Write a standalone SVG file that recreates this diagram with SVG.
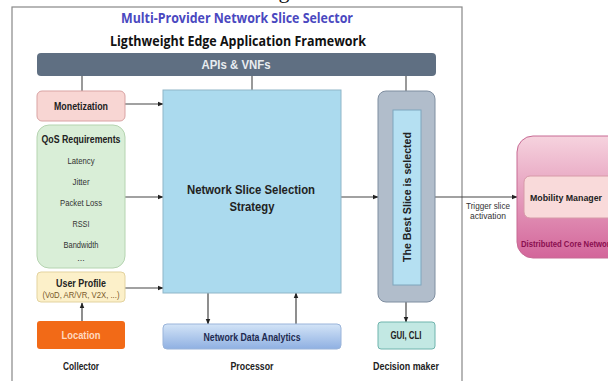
<svg xmlns="http://www.w3.org/2000/svg" width="608" height="381" viewBox="0 0 608 381">
<defs>
<style>
.t{font-family:"Liberation Sans",Arial,sans-serif;font-weight:bold;text-anchor:middle;fill:#222}
.n{font-family:"Liberation Sans",Arial,sans-serif;text-anchor:middle;fill:#333;font-size:9px}
.h{font-family:"Open Sans","Liberation Sans",sans-serif;font-weight:700;text-anchor:middle;font-size:13.5px}
.ln{stroke:#555;stroke-width:1.2;fill:none}
.ar{stroke:#444;stroke-width:1.2;fill:none;marker-end:url(#ah)}
</style>
<marker id="ah" viewBox="0 0 10 10" refX="9" refY="5" markerWidth="5" markerHeight="5" orient="auto">
<path d="M0,1 L10,5 L0,9 z" fill="#222"/>
</marker>
<linearGradient id="gNDA" x1="0" y1="0" x2="0" y2="1">
<stop offset="0" stop-color="#d3e4f7"/>
<stop offset="1" stop-color="#8fb0e2"/>
</linearGradient>
<linearGradient id="gDCN" x1="0" y1="0" x2="0" y2="1">
<stop offset="0" stop-color="#f6d3de"/>
<stop offset="1" stop-color="#d3659a"/>
</linearGradient>
</defs>
<rect width="608" height="381" fill="#fff"/>
<text x="284" y="-2" font-family="Liberation Serif,serif" font-size="22" fill="#111" text-anchor="middle">g</text>
<rect id="frame" x="12" y="7" width="450" height="390" fill="none" stroke="#888" stroke-width="1.2"/>
<text class="h" x="237" y="23" fill="#4a48c0" textLength="232" lengthAdjust="spacingAndGlyphs">Multi-Provider Network Slice Selector</text>
<text class="h" x="238" y="46" fill="#111" textLength="256" lengthAdjust="spacingAndGlyphs">Ligthweight Edge Application Framework</text>

<g id="apis">
<rect x="37" y="53" width="399" height="23" rx="4" fill="#5f6f82"/>
<text class="t" x="236" y="69" font-size="12" style="fill:#e8ecf0" textLength="69" lengthAdjust="spacingAndGlyphs">APIs &amp; VNFs</text>
</g>

<g id="connectors">
<line class="ln" x1="82" y1="76" x2="82" y2="91"/>
<line class="ln" x1="252" y1="76" x2="252" y2="90"/>
<line class="ln" x1="406" y1="76" x2="406" y2="91"/>
<line class="ar" x1="125" y1="104" x2="163" y2="104"/>
<line class="ar" x1="125" y1="197" x2="163" y2="197"/>
<line class="ar" x1="125" y1="288" x2="163" y2="288"/>
<line class="ar" x1="82" y1="321" x2="82" y2="303"/>
<line class="ar" x1="208" y1="293" x2="208" y2="324"/>
<line class="ar" x1="296" y1="324" x2="296" y2="293"/>
<line class="ar" x1="341" y1="197" x2="378" y2="197"/>
<line class="ar" x1="406" y1="302" x2="406" y2="322"/>
<line class="ar" x1="435" y1="197" x2="517" y2="197"/>
<text class="n" x="488" y="209" font-size="9" textLength="44" lengthAdjust="spacingAndGlyphs">Trigger slice</text>
<text class="n" x="488" y="219" font-size="9" textLength="36" lengthAdjust="spacingAndGlyphs">activation</text>
</g>

<g id="monetization">
<rect x="37" y="91" width="88" height="30" rx="5" fill="#f8d6d3" stroke="#d9a3a3"/>
<text class="t" x="81" y="110" font-size="11" textLength="54" lengthAdjust="spacingAndGlyphs">Monetization</text>
</g>

<g id="qos">
<rect x="37" y="125" width="88" height="143" rx="12" fill="#d9eed7" stroke="#b5d4b0"/>
<text class="t" x="81" y="143" font-size="11" textLength="79" lengthAdjust="spacingAndGlyphs">QoS Requirements</text>
<text class="n" x="81" y="164" textLength="27" lengthAdjust="spacingAndGlyphs">Latency</text>
<text class="n" x="81" y="185" textLength="17" lengthAdjust="spacingAndGlyphs">Jitter</text>
<text class="n" x="81" y="206" textLength="42" lengthAdjust="spacingAndGlyphs">Packet Loss</text>
<text class="n" x="81" y="227" textLength="17" lengthAdjust="spacingAndGlyphs">RSSI</text>
<text class="n" x="81" y="248" textLength="35" lengthAdjust="spacingAndGlyphs">Bandwidth</text>
<text class="n" x="81" y="261" font-size="7">...</text>
</g>

<g id="userprofile">
<rect x="37" y="272" width="88" height="30" rx="4" fill="#fcf0c9" stroke="#e3d39f"/>
<text class="t" x="81" y="287" font-size="11" textLength="50" lengthAdjust="spacingAndGlyphs">User Profile</text>
<text class="n" x="81" y="298" font-size="8.5" style="fill:#7a5a2a" textLength="77" lengthAdjust="spacingAndGlyphs">(VoD, AR/VR, V2X, ...)</text>
</g>

<g id="location">
<rect x="37" y="321" width="88" height="28" rx="3" fill="#f26a17"/>
<text class="t" x="81" y="339" font-size="11" style="fill:#ffd9c0" textLength="39" lengthAdjust="spacingAndGlyphs">Location</text>
</g>
<text class="t" x="81" y="370" font-size="11" textLength="36" lengthAdjust="spacingAndGlyphs">Collector</text>

<g id="strategy">
<rect x="163" y="90" width="178" height="203" fill="#abdaee" stroke="#8fb6c8"/>
<text class="t" x="251" y="194" font-size="13" textLength="128" lengthAdjust="spacingAndGlyphs">Network Slice Selection</text>
<text class="t" x="252" y="211" font-size="13" textLength="45" lengthAdjust="spacingAndGlyphs">Strategy</text>
</g>

<g id="nda">
<rect x="163" y="324" width="178" height="25" rx="4" fill="url(#gNDA)" stroke="#9ab4da"/>
<text class="t" x="252" y="341" font-size="11" style="fill:#1e2a50" textLength="97" lengthAdjust="spacingAndGlyphs">Network Data Analytics</text>
</g>
<text class="t" x="252" y="370" font-size="11" textLength="43" lengthAdjust="spacingAndGlyphs">Processor</text>

<g id="decision">
<rect x="378" y="91" width="57" height="211" rx="8" fill="#b1bdcb" stroke="#7f8ea0"/>
<rect x="393" y="110" width="28" height="175" fill="#b5e0f2" stroke="#7fa6bd"/>
<text class="t" transform="translate(411,197) rotate(-90)" font-size="11" textLength="130" lengthAdjust="spacingAndGlyphs">The Best Slice is selected</text>
</g>

<g id="gui">
<rect x="378" y="322" width="57" height="27" rx="3" fill="#c2e8e3" stroke="#6fb4ad"/>
<text class="t" x="406" y="339" font-size="11" textLength="31" lengthAdjust="spacingAndGlyphs">GUI, CLI</text>
</g>
<text class="t" x="406" y="370" font-size="11" textLength="66" lengthAdjust="spacingAndGlyphs">Decision maker</text>

<g id="dcn">
<rect x="517" y="136" width="110" height="122" rx="16" fill="url(#gDCN)" stroke="#c76a94"/>
<rect x="524" y="176" width="100" height="42" rx="6" fill="#f9dada" stroke="#d79aa8"/>
<text class="t" x="566" y="201" font-size="9.5" textLength="72" lengthAdjust="spacingAndGlyphs">Mobility Manager</text>
<text class="t" x="521" y="247" font-size="9" style="text-anchor:start;fill:#8a0f50" textLength="93" lengthAdjust="spacingAndGlyphs">Distributed Core Network</text>
</g>
</svg>
